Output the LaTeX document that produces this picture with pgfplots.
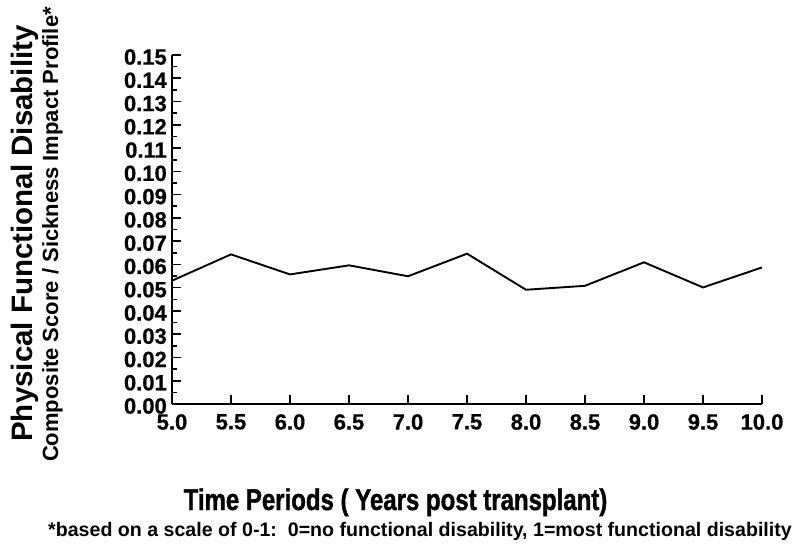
\documentclass[border=0pt]{standalone}
\usepackage{fontspec}
\setmainfont{Liberation Sans}
\newfontfamily\condfont[FakeStretch=0.8,FakeBold=1.2]{Liberation Sans}
\newfontfamily\tickfont[FakeBold=0.6]{Liberation Sans}
\usepackage{pgfplots}
\pgfplotsset{compat=1.18}
\begin{document}
\begin{tikzpicture}[x=1bp,y=1bp]
\path[use as bounding box] (0,0) rectangle (800,-548);
\begin{axis}[
  at={(172bp,-404bp)}, anchor=south west,
  scale only axis, width=590bp, height=349bp,
  xmin=5, xmax=10, ymin=0, ymax=0.15,
  axis x line*=bottom, axis y line*=left,
  axis line style={-, line width=1.9bp},
  xtick={5,5.5,6,6.5,7,7.5,8,8.5,9,9.5,10},
  ytick={0,0.01,0.02,0.03,0.04,0.05,0.06,0.07,0.08,0.09,0.10,0.11,0.12,0.13,0.14,0.15},
  minor y tick num=1,
  tick align=inside,
  xtick pos=bottom, ytick pos=left,
  major tick length=9bp, minor tick length=5bp,
  every tick/.style={black, line width=1.6bp},
  /pgf/number format/assume math mode=true,
  xticklabel style={font=\tickfont\fontsize{22bp}{24bp}\selectfont\bfseries, inner sep=0pt, anchor=north, yshift=-10bp,
    /pgf/number format/.cd, fixed, fixed zerofill, precision=1},
  yticklabel style={font=\tickfont\fontsize{22bp}{24bp}\selectfont\bfseries, inner sep=0pt, anchor=east, xshift=-5bp, yshift=-2bp,
    /pgf/number format/.cd, fixed, fixed zerofill, precision=2},
  clip=false,
]
\addplot[black, line width=1.9bp, mark=none] coordinates {
  (5.0,0.0530) (5.5,0.0643) (6.0,0.0557) (6.5,0.0596) (7.0,0.0549)
  (7.5,0.0646) (8.0,0.0491) (8.5,0.0508) (9.0,0.0609) (9.5,0.0501) (10.0,0.0587)
};
\end{axis}
\node[rotate=90, anchor=base, inner sep=0pt, font=\fontsize{29.5bp}{30bp}\selectfont\bfseries] at (32,-233.5) {Physical Functional Disability};
\node[rotate=90, anchor=base, inner sep=0pt, font=\fontsize{22bp}{24bp}\selectfont\bfseries] at (58,-234.5) {Composite Score / Sickness Impact Profile*};
\node[anchor=base, inner sep=0pt, font=\condfont\fontsize{30bp}{32bp}\selectfont\bfseries] at (395.5,-510) {Time Periods ( Years post transplant)};
\node[anchor=base, inner sep=0pt, font=\fontsize{19.6bp}{22bp}\selectfont\bfseries] at (420,-536) {*based on a scale of 0-1:\ \ 0=no functional disability, 1=most functional disability};
\end{tikzpicture}
\end{document}
